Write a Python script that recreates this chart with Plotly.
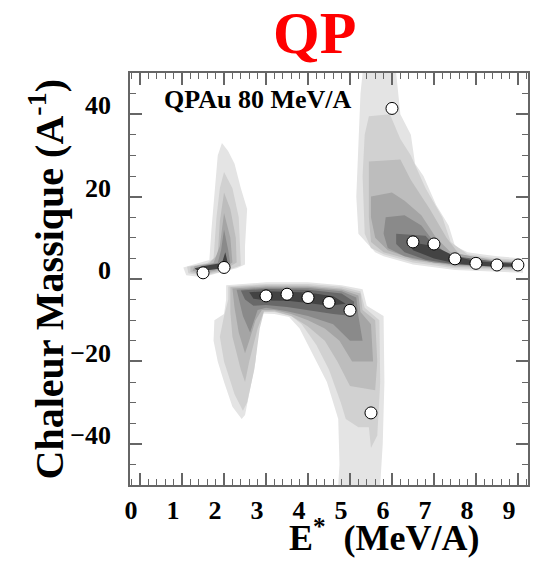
import plotly.graph_objects as go

# ---------------- data ----------------
e_star = [1.5, 2.0, 3.0, 3.5, 4.0, 4.5, 5.0, 5.5, 6.0, 6.5, 7.0, 7.5, 8.0, 8.5, 9.0]
chaleur = [1.5, 2.8, -4.1, -3.7, -4.5, -5.7, -7.6, -32.5, 41.4, 9.0, 8.5, 4.9, 3.8, 3.4, 3.4]

x_ticks = [0, 1, 2, 3, 4, 5, 6, 7, 8, 9]
y_ticks = [-40, -20, 0, 20, 40]

level_colors = ['#e4e4e4', '#d1d1d1', '#bdbdbd', '#a5a5a5', '#8a8a8a', '#686868', '#434343']

# density contour outlines (E*, C), lightest level first
left_blob = [
    [(1.95, 33), (2.1, 31), (2.25, 28), (2.4, 22), (2.55, 17), (2.5, 8), (2.5, 3.5), (2.3, 2.6),
     (1.9, 1.6), (1.5, 0.4), (1.1, 0.9), (1.03, 2.8), (1.4, 3.9), (1.65, 4.6), (1.7, 12), (1.8, 24), (1.85, 30)],
    [(2.0, 26), (2.2, 22), (2.35, 15), (2.4, 6), (2.4, 3.3), (2.0, 1.9), (1.5, 0.8), (1.15, 1.4),
     (1.12, 3.0), (1.6, 3.9), (1.75, 5), (1.82, 15), (1.9, 22)],
    [(2.0, 21), (2.15, 17), (2.28, 10), (2.3, 4), (2.0, 2.2), (1.5, 1.1), (1.2, 1.7), (1.2, 3.0),
     (1.65, 3.8), (1.85, 6), (1.9, 14)],
    [(2.0, 16), (2.15, 10), (2.2, 4), (1.95, 2.4), (1.5, 1.4), (1.25, 2.0), (1.3, 3.1), (1.75, 3.9), (1.9, 8)],
    [(2.0, 12), (2.1, 7), (2.15, 3.5), (1.9, 2.6), (1.5, 1.8), (1.3, 2.3), (1.5, 3.3), (1.85, 3.9), (1.93, 7)],
    [(1.3, 2.6), (1.6, 3.3), (1.95, 3.9), (2.03, 6.5), (2.1, 3.4), (2.0, 2.7), (1.6, 2.1), (1.35, 2.2)],
]

middle_blob = [
    [(2.05, -1.5), (3.0, -0.8), (4.0, -0.8), (4.8, -1.5), (5.3, -2.5), (5.4, -6.5), (5.8, -9), (5.82, -25),
     (5.78, -40), (5.72, -50), (4.72, -50), (4.75, -45), (4.72, -34), (4.45, -25), (4.1, -18), (3.8, -12),
     (3.55, -9.2), (3.2, -8.5), (2.92, -8.4), (2.82, -12), (2.75, -20), (2.6, -28), (2.5, -33), (2.42, -34),
     (2.2, -31), (2.0, -25), (1.85, -20), (1.75, -15), (1.77, -10), (2.0, -8.5), (2.05, -5)],
    [(2.1, -1.8), (3.0, -1.2), (4.0, -1.2), (4.8, -1.9), (5.25, -3), (5.35, -7), (5.7, -10), (5.72, -25),
     (5.65, -38), (5.5, -41), (5.45, -36), (5.2, -36), (4.9, -34), (4.78, -30), (4.5, -22), (4.2, -16),
     (3.85, -11), (3.6, -9), (3.2, -8), (2.95, -8), (2.85, -12), (2.72, -22), (2.55, -30), (2.45, -32),
     (2.25, -28), (2.0, -20), (1.9, -14), (2.0, -9), (2.1, -5)],
    [(2.15, -2), (3.0, -1.5), (4.0, -1.6), (4.8, -2.3), (5.25, -3.5), (5.3, -7.5), (5.6, -10), (5.65, -20),
     (5.6, -27), (5.0, -26), (4.7, -20), (4.4, -15), (4.0, -11.5), (3.6, -9), (3.2, -7.8), (2.95, -7.8),
     (2.8, -12), (2.6, -20), (2.5, -25), (2.4, -22), (2.2, -14), (2.15, -8)],
    [(2.2, -2.3), (3.0, -1.8), (4.0, -1.9), (4.8, -2.6), (5.2, -4), (5.25, -8), (5.5, -11), (5.55, -20),
     (5.05, -20), (4.75, -15), (4.4, -12), (4.0, -10), (3.6, -8.5), (3.2, -7.5), (2.9, -7.5), (2.75, -10),
     (2.6, -15), (2.5, -18), (2.35, -13), (2.25, -7)],
    [(2.3, -2.6), (3.0, -2.1), (4.0, -2.2), (4.8, -3), (5.15, -4.5), (5.2, -9), (5.3, -15), (5.0, -15),
     (4.6, -11), (4.0, -9), (3.5, -7.8), (3.0, -7), (2.8, -7.5), (2.62, -13), (2.45, -9), (2.35, -5)],
    [(2.4, -2.8), (3.0, -2.4), (4.0, -2.6), (4.8, -3.5), (5.1, -5.5), (5.05, -9), (4.6, -8.5), (4.0, -7.5),
     (3.5, -6.8), (3.0, -6.3), (2.7, -6.5), (2.5, -5)],
    [(2.6, -3.2), (3.0, -3.0), (4.0, -3.3), (4.6, -4.2), (4.9, -6), (4.5, -6.5), (4.0, -5.8), (3.5, -5.3),
     (3.0, -5.2), (2.7, -4.8)],
]

right_blob = [
    [(5.3, 50), (6.1, 50), (6.2, 40), (6.45, 35), (6.55, 28), (6.75, 25), (7.05, 18), (7.35, 13), (7.5, 8),
     (7.8, 6.5), (8.5, 5.5), (9.12, 5), (9.12, 1.5), (8.5, 1.8), (7.5, 2.2), (6.5, 3.5), (5.8, 5.5),
     (5.6, 6.5), (5.2, 11), (5.15, 20), (5.2, 35), (5.25, 45)],
    [(5.45, 39.5), (5.95, 40), (6.2, 34), (6.45, 30), (6.8, 22), (7.2, 15), (7.4, 9), (7.8, 6), (8.5, 5),
     (9.08, 4.6), (9.08, 2.0), (8.5, 2.2), (7.5, 2.6), (6.5, 4), (5.8, 6), (5.5, 7.5), (5.35, 11),
     (5.3, 25), (5.35, 35)],
    [(5.45, 28.5), (6.2, 29), (6.45, 24), (6.9, 17), (7.3, 10), (7.6, 6), (8.5, 4.6), (9.05, 4.3),
     (9.05, 2.3), (8.5, 2.5), (7.5, 3), (6.5, 4.5), (5.8, 6.5), (5.5, 9), (5.45, 15)],
    [(5.5, 20), (6.0, 21), (6.3, 19), (6.7, 15.5), (7.05, 10), (7.4, 6.5), (8.5, 4.3), (9.02, 4),
     (9.02, 2.6), (8.5, 2.8), (7.5, 3.3), (6.5, 4.8), (5.9, 7), (5.6, 10), (5.5, 15)],
    [(5.85, 15), (6.3, 15.5), (6.7, 13), (7.0, 9), (7.3, 6), (8.0, 4.5), (9.0, 3.9), (9.0, 2.8),
     (8.0, 3.2), (7.0, 4), (6.3, 5.5), (5.9, 7.5), (5.8, 11)],
    [(6.1, 11), (6.8, 10.5), (7.1, 7), (7.5, 5.5), (8.5, 4.2), (9.0, 3.8), (9.0, 3.0), (8.5, 3.1),
     (7.5, 3.5), (6.8, 4.7), (6.3, 6.5), (6.1, 8.5)],
    [(6.4, 9), (7.0, 8), (7.5, 5.5), (8.0, 4.3), (8.7, 3.8), (9.0, 3.7), (9.0, 3.1), (8.5, 3.0),
     (8.0, 3.3), (7.5, 3.8), (7.0, 5), (6.5, 7)],
]

# ---------------- figure ----------------
fig = go.Figure()

for level in range(len(level_colors)):
    for blob in (left_blob, middle_blob, right_blob):
        if level < len(blob):
            poly = blob[level]
            col = level_colors[level] if blob is not left_blob or level < 5 else level_colors[6]
            fig.add_trace(go.Scatter(
                x=[p[0] for p in poly] + [poly[0][0]],
                y=[p[1] for p in poly] + [poly[0][1]],
                mode='lines', fill='toself', fillcolor=col,
                line=dict(width=0, color=col), hoverinfo='skip', showlegend=False))

fig.add_trace(go.Scatter(
    x=e_star, y=chaleur, mode='markers',
    marker=dict(size=12, color='white', line=dict(color='black', width=1)),
    showlegend=False))

serif = 'Liberation Serif'
axis_common = dict(
    showline=True, linecolor='#666666', linewidth=1.5, mirror='allticks',
    ticks='inside', ticklen=12, tickcolor='#666666', tickwidth=1.5,
    showgrid=False, zeroline=False,
    tickfont=dict(family=serif, size=26, color='black', weight='bold'),
)

fig.update_xaxes(range=[-0.24, 9.24], tickvals=x_ticks,
                 minor=dict(ticks='inside', dtick=0.2, ticklen=6, tickcolor='#666666', tickwidth=1),
                 ticklabelshift=-9, ticklabelstandoff=1, **axis_common)
fig.update_yaxes(range=[-50, 50], tickvals=y_ticks,
                 minor=dict(ticks='inside', dtick=5, ticklen=6, tickcolor='#666666', tickwidth=1),
                 ticklabelshift=-9, ticklabelstandoff=12, **axis_common)

# plot area in pixels: x 130..530, y 73..485
fig.update_layout(
    width=536, height=567,
    margin=dict(l=130, r=6, t=73, b=82),
    paper_bgcolor='white', plot_bgcolor='white',
    font=dict(family=serif, color='black'),
    annotations=[
        dict(text='<b>QP</b>', x=(315 - 130) / 400, y=(485 - 33) / 412, xref='x domain', yref='y domain',
             xanchor='center', yanchor='middle', showarrow=False,
             font=dict(family=serif, size=60, color='#ff0000')),
        dict(text='<b>QPAu 80 MeV/A</b>', x=0.08, y=0.935, xref='x domain', yref='y domain',
             xanchor='left', yanchor='middle', showarrow=False,
             font=dict(family=serif, size=26, color='black')),
        dict(text='<b>E<sup>*</sup>&nbsp; (MeV/A)</b>', x=(386 - 130) / 400, y=(485 - 560) / 412,
             xref='x domain', yref='y domain',
             xanchor='center', yanchor='bottom', showarrow=False,
             font=dict(family=serif, size=36, color='black')),
        dict(text='<b>Chaleur Massique (A<sup>-1</sup>)</b>', x=-0.21, y=0.5, xref='x domain', yref='y domain',
             xanchor='center', yanchor='middle', textangle=-90, showarrow=False,
             font=dict(family=serif, size=40, color='black')),
    ],
)

fig.write_html('out.html')
